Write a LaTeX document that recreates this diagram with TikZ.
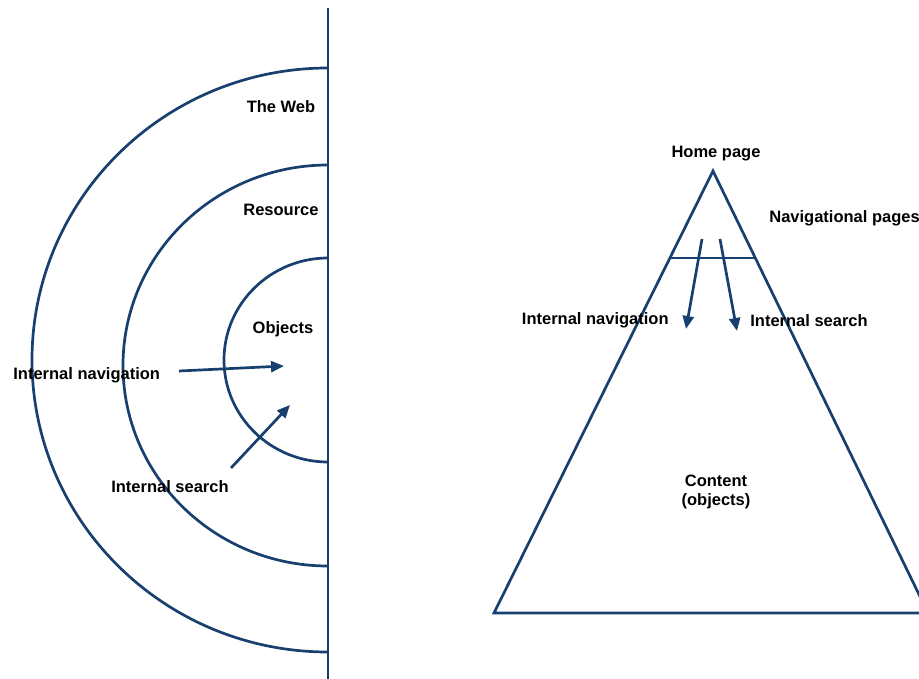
\documentclass[tikz,border=0pt]{standalone}
\usepackage{fontspec}
\setmainfont{Liberation Sans}
\usetikzlibrary{arrows.meta,calc}
\definecolor{navy}{RGB}{24,64,110}

\begin{document}
\begin{tikzpicture}[x=1pt,y=-1pt,>={Triangle[length=13pt,width=11pt]},line width=2.7pt,
    every node/.style={font=\fontsize{16.5}{19}\selectfont\bfseries,inner sep=0pt},
    ring/.style={draw=navy},arr/.style={->,draw=navy}]
		\useasboundingbox (0,0) rectangle (919,679);
		\clip (0,0) rectangle (919,679);
		% left: web, resource, objects
		\coordinate (top)  at (328,8);
		\coordinate (bot)  at (328,679);
		\draw[ring] (top) -- (bot);
		\draw[ring] (328,68)  arc[start angle=90,end angle=270,x radius=296pt,y radius=292pt];
		\draw[ring] (328,165) arc[start angle=90,end angle=270,x radius=205pt,y radius=200.5pt];
		\draw[ring] (328,258) arc[start angle=90,end angle=270,x radius=104pt,y radius=102pt];
		
		\node (web)  at (281,106.5) {The Web};
		\node (res)  at (281,209.5) {Resource};
		\node (obj)  at (283,329.5) {Objects};
		\node (inav) [anchor=west] at (12,375.5) {Internal navigation};
		\node (isrc) at (170,486.5) {Internal search};
		
		\coordinate (n1) at (179,371);
		\coordinate (n2) at (284,366);
		\coordinate (s1) at (231,468);
		\coordinate (s2) at (290,405);
		\draw[arr] (n1) -- (n2);
		\draw[arr] (s1) -- (s2);
		
		% right: pyramid
		\coordinate (apex) at (713,171);
		\coordinate (bl)   at (494,613);
		\coordinate (br)   at (928,613);
		\draw[ring,line join=miter] (apex) -- (bl) -- (br) -- cycle;
		\draw[ring] ($(apex)!0.197!(bl)$) -- ($(apex)!0.197!(br)$);
		
		\node (home) at (716,153.5) {Home page};
		\node (navp) [anchor=west] at (768,218.5) {Navigational pages};
		\node (rnav) [anchor=east] at (670,320.5) {Internal navigation};
		\node (rsrc) [anchor=west] at (749,320.5) {Internal search};
		\node (cont) [align=center] at (716,491.5) {Content\\(objects)};
		
		\coordinate (a1) at (702,239);
		\coordinate (a2) at (686,329);
		\coordinate (b1) at (720,239);
		\coordinate (b2) at (737,331);
		\draw[arr] (a1) -- (a2);
		\draw[arr] (b1) -- (b2);
\end{tikzpicture}
\end{document}
